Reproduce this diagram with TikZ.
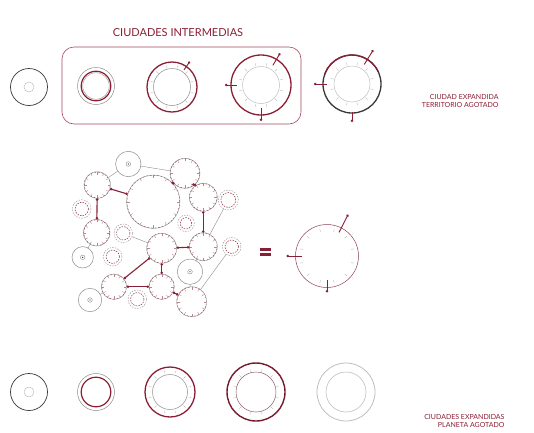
\documentclass[tikz,border=0pt]{standalone}
\usepackage{fontspec}
\setmainfont{Lato}
\usepackage{tikz}
\usetikzlibrary{arrows.meta}
\definecolor{wine}{RGB}{138,30,52}
\definecolor{ash}{RGB}{140,140,140}
\definecolor{pale}{RGB}{190,190,190}
\definecolor{ink}{RGB}{55,55,55}

\begin{document}
\begin{tikzpicture}[x=1pt,y=-1pt,
  plain/.style={circle,inner sep=0pt,outer sep=0pt,minimum size=#1*2pt},
  notch/.style={path picture={\foreach \a in {15,45,...,345}
      \draw[pale,line width=0.4pt] (path picture bounding box.center) ++(\a:#1pt) -- ++(\a:3pt);}},
  city/.style={plain=#1,draw=ash,line width=0.4pt,
    path picture={\draw[wine,line width=0.5pt,dash pattern=on 1.6pt off 2pt] (path picture bounding box.center) circle[radius=#1pt-0.2pt];
      \foreach \a in {0,30,...,330}
        \draw[wine!55,line width=0.4pt] (path picture bounding box.center) ++(\a:#1pt) -- ++(\a:-3pt);}},
  ring/.style={plain=#1,draw=ash,line width=0.4pt,dash pattern=on 1.5pt off 1.2pt,
    path picture={\draw[wine,line width=0.5pt,dash pattern=on 1.5pt off 1.2pt] (path picture bounding box.center) circle[radius=#1pt-2.6pt];}},
  seed/.style={plain=#1,draw=ash,line width=0.5pt,
    path picture={\draw[ash,line width=0.4pt] (path picture bounding box.center) circle[radius=2.3pt];
      \fill[ink] (path picture bounding box.center) circle[radius=0.7pt];}},
  link/.style={wine,line width=1.1pt,arrows={Circle[length=2.4pt]-Circle[length=2.4pt]}},
  wire/.style={ash,line width=0.4pt},
  spur/.style={wine,line width=0.9pt,arrows={-Circle[length=2.4pt]}},
  tag/.style={wine,align=right,anchor=east,font=\fontsize{7}{8.4}\selectfont}]
\useasboundingbox (0,0) rectangle (534,432);

% top row
\node[wine,font=\fontsize{11}{13}\selectfont] (title) at (178,33) {CIUDADES INTERMEDIAS};
\draw[wine!80,line width=0.6pt,rounded corners=12pt] (62,47) rectangle (301,124);
\node[plain=18.5,draw=ink,line width=0.7pt] (t1) at (29,87) {};
\draw[pale,line width=0.5pt] (t1) circle[radius=5pt];
\node[plain=18.5,draw=ash,line width=0.5pt] (t2) at (96,86) {};
\draw[wine,line width=1.2pt] (t2) circle[radius=14.8pt];
\draw[ash,line width=0.4pt] (t2) circle[radius=13.3pt];
\node[plain=25,draw=wine,line width=1.3pt,notch=19] (t3) at (172,87) {};
\draw[ash,line width=0.5pt] (t3) circle[radius=18.5pt];
\draw[spur] (t3.55) ++(55:-4pt) -- ++(55:10pt);
\node[plain=30,draw=wine,line width=1.3pt,notch=19.5] (t4) at (261,85) {};
\draw[pale,line width=0.5pt] (t4) circle[radius=18.5pt];
\draw[spur] (t4.59) ++(59:-7pt) -- ++(59:14pt);
\draw[spur] (t4.180) ++(180:-6pt) -- ++(180:12pt);
\draw[spur] (t4.270) ++(270:-7pt) -- ++(270:13pt);
\node[plain=29,draw=ink,line width=1.3pt,notch=19] (t5) at (352,84) {};
\draw[wine,line width=1.3pt] (t5.25) arc[start angle=25,end angle=160,radius=29pt];
\draw[pale,line width=0.5pt] (t5) circle[radius=18pt];
\draw[spur] (t5.58) ++(58:-6pt) -- ++(58:17pt);
\draw[spur] (t5.180) ++(180:-4pt) -- ++(180:13pt);
\draw[spur] (t5.270) ++(270:-1pt) -- ++(270:10pt);
\node[tag] (lab1) at (502,101) {CIUDAD EXPANDIDA\\TERRITORIO AGOTADO};

% cluster
\node[seed=12.7] (A) at (128.3,164) {};
\node[city=15] (B) at (185,173.3) {};
\node[city=13.3] (C) at (97.3,185) {};
\node[city=26.7] (D) at (153.3,201.7) {};
\node[city=14] (E) at (203.3,197.3) {};
\node[ring=10] (F) at (228.3,200) {};
\node[ring=9.3] (G) at (81.7,209) {};
\node[city=13.3] (H) at (96.7,232.7) {};
\node[ring=9.3] (I) at (123.3,233.3) {};
\node[ring=8.3] (J) at (186,223.3) {};
\node[city=15] (K) at (161.7,248.3) {};
\node[city=14] (L) at (203.3,246.7) {};
\node[ring=9.3] (M) at (231.7,246.7) {};
\node[seed=10.7] (N) at (82.7,257.3) {};
\node[ring=9.3] (O) at (112.7,256.7) {};
\node[seed=12.7] (P) at (190,271.7) {};
\node[city=12.7] (Q) at (114,286.7) {};
\node[city=12.7] (R) at (161.7,286.7) {};
\node[seed=11.7] (S) at (90,300) {};
\node[ring=9.3] (T) at (137.3,299.3) {};
\node[city=15] (U) at (191.7,301.7) {};
\draw[wire] (A) -- (B);
\draw[wire] (A) -- (C);
\draw[wire] (I) -- (K);
\draw[wire] (F) -- (L);
\draw[wire] (M) -- (U);
\draw[wire] (P) -- (U);
\draw[wire] (P) -- (L);
\draw[wire] (N) -- (H);
\draw[wire] (S) -- (Q);
\draw[link] (C) -- (D);
\draw[link] (C) -- (H);
\draw[link] (B.225) -- (D.47);
\draw[link] (B.310) -- (E.120);
\draw[link] (E) -- (L);
\draw[link] (K) -- (L);
\draw[link] (K) -- (Q);
\draw[link] (Q) -- (R);
\draw[link] (K) -- (R);
\draw[link] (R) -- (U);

% result
\fill[wine] (260,248.3) rectangle (271,250.8);
\fill[wine] (260,253) rectangle (271,255.5);
\node[plain=31.5,draw=wine!70!ash,line width=0.5pt,notch=25] (Z) at (327,256) {};
\draw[spur] (Z.63) ++(63:-5pt) -- ++(63:20pt);
\draw[spur] (Z.180) ++(180:-6pt) -- ++(180:15pt);
\draw[spur] (Z.270) ++(270:-8pt) -- ++(270:13pt);

% bottom row
\node[plain=18.5,draw=ink,line width=0.7pt] (b1) at (29,392) {};
\draw[pale,line width=0.5pt] (b1) circle[radius=5pt];
\node[plain=18.5,draw=ash,line width=0.5pt] (b2) at (96,392) {};
\draw[wine,line width=1.2pt] (b2) circle[radius=14.8pt];
\node[plain=25,draw=wine,line width=1.3pt,notch=19] (b3) at (170,392) {};
\draw[ash,line width=0.5pt] (b3) circle[radius=17.5pt];
\node[plain=29,draw=wine!85!black,line width=1.4pt,notch=20.5] (b4) at (256,392) {};
\draw[wine!45!ash,line width=0.5pt] (b4) circle[radius=20pt];
\node[plain=29,draw=pale,line width=0.8pt] (b5) at (346,392) {};
\draw[pale,line width=0.6pt] (b5) circle[radius=20pt];
\node[tag] (lab2) at (508,421) {CIUDADES EXPANDIDAS\\PLANETA AGOTADO};
\end{tikzpicture}
\end{document}
